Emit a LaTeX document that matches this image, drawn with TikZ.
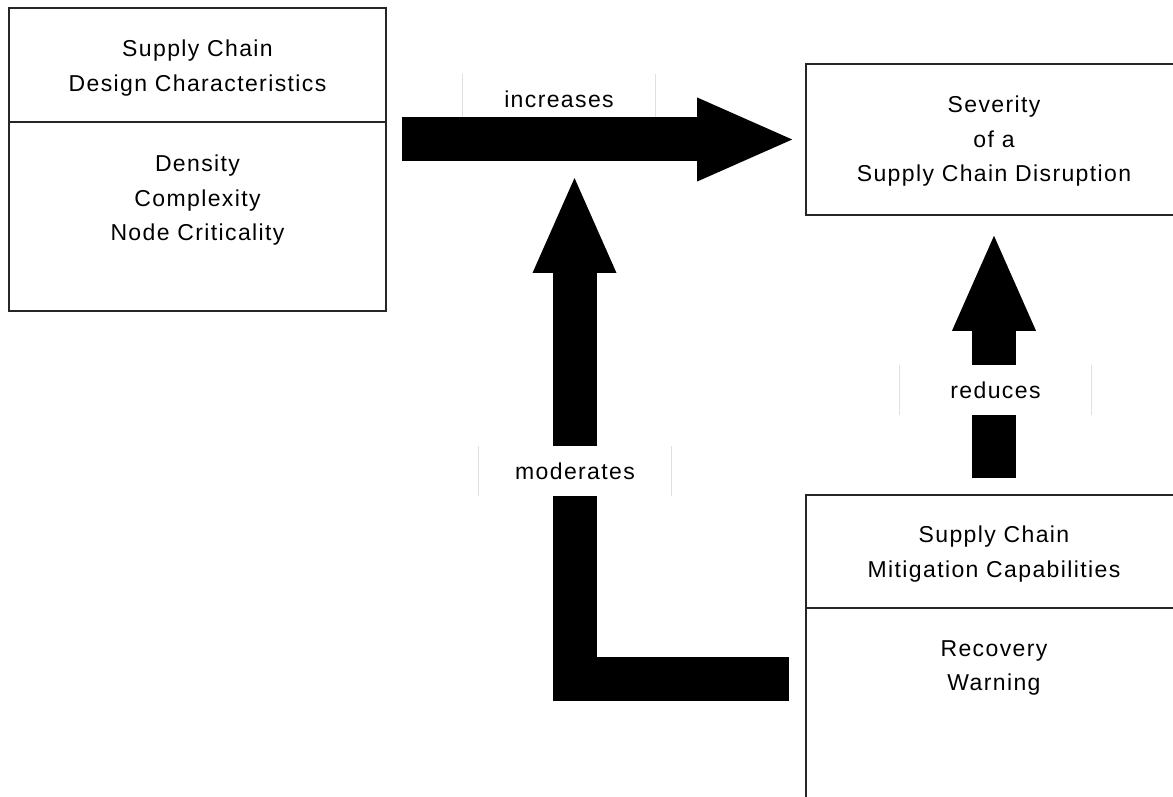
\documentclass[tikz,border=0pt]{standalone}
\usepackage{fontspec}
\setmainfont{Liberation Sans}[LetterSpace=6]
\usetikzlibrary{arrows.meta,calc}

\begin{document}
\begin{tikzpicture}[x=1pt, y=1pt,
    frame/.style={draw=black!85, line width=1.6pt},
    txt/.style={align=center, inner sep=0pt, anchor=north, font=\fontsize{23}{34.5}\selectfont},
    lbl/.style={fill=white, minimum width=192pt, minimum height=50pt, inner sep=0pt, font=\fontsize{23}{26}\selectfont},
    faint/.style={draw=black!12, line width=1pt},
    bigarrow/.style={line width=44pt, -{Triangle[length=95pt, width=84pt, line width=0pt]}}]
        \useasboundingbox (0, 0) rectangle (1173, 796);
        \node[frame, minimum width=377pt, minimum height=303pt] (design) at (197.5, 636.5) {}; % design box
        \draw[frame] (design.west |- 0, 674) -- (design.east |- 0, 674); % design divider
        \node[txt] (designtitle) at (197.5, 756) {Supply Chain\\Design Characteristics};
        \node[txt] (designlist) at (197.5, 641) {Density\\Complexity\\Node Criticality};
        \node[frame, minimum width=376pt, minimum height=151pt] (severity) at (994, 656.5) {}; % severity box
        \node[txt] (severitytext) at (994, 700) {Severity\\of a\\Supply Chain Disruption};
        \node[frame, minimum width=376pt, minimum height=320pt] (mitigation) at (994, 141) {}; % mitigation box
        \draw[frame] (mitigation.west |- 0, 188) -- (mitigation.east |- 0, 188); % mitigation divider
        \node[txt] (mitigationtitle) at (994, 270) {Supply Chain\\Mitigation Capabilities};
        \node[txt] (mitigationlist) at (994, 156) {Recovery\\Warning};
        \node[lbl] (inclabel) at (559, 697) {increases};
        \draw[faint] (inclabel.north west) -- (inclabel.south west) (inclabel.north east) -- (inclabel.south east);
        \draw[bigarrow] ($(design.east |- severity.west)+(15, 0)$) -- ($(severity.west)+(-13, 0)$); % increases
        \coordinate (modfrom) at ($(mitigation.west)+(-16, -24)$);
        \coordinate (modto) at (574.5, 618);
        \draw[bigarrow] (modfrom) -| (modto); % moderates
        \draw[bigarrow] ($(mitigation.north)+(0, 16)$) -- ($(severity.south)+(0, -20)$); % reduces
        \node[lbl] (modlabel) at (575, 325) {moderates};
        \node[lbl] (redlabel) at (995.5, 406) {reduces};
        \foreach \l in {modlabel, redlabel}
            \draw[faint] (\l.north west) -- (\l.south west) (\l.north east) -- (\l.south east);
    \end{tikzpicture}
\end{document}
